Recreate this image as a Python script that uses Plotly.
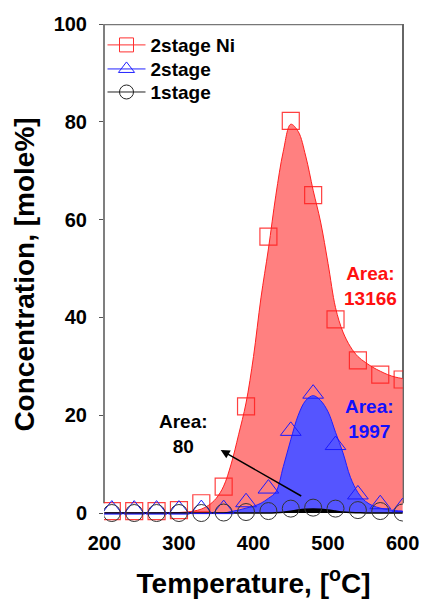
import plotly.graph_objects as go

# measured points
temps = [210, 240, 270, 300, 330, 360, 390, 420, 450, 480, 510, 540, 570, 600]
ni_2stage = [0.4, 0.4, 0.4, 0.6, 2.0, 5.4, 21.8, 56.5, 80.2, 65.0, 39.6, 31.2, 28.3, 27.3]
two_stage = [0.7, 0.7, 0.7, 0.7, 0.8, 0.8, 2.2, 5.0, 16.8, 24.4, 13.9, 3.8, 1.8, 1.2]
one_stage = [0.0, 0.0, 0.0, 0.0, 0.0, 0.1, 0.2, 0.4, 0.9, 1.1, 0.9, 0.6, 0.4, 0.1]

# fitted curves
fit_t = [200, 210, 220, 230, 240, 250, 260, 270, 280, 290, 300, 310, 320, 330, 340,
         350, 360, 370, 380, 390, 400, 410, 420, 430, 440, 450, 460, 470, 480, 490,
         500, 510, 520, 530, 540, 550, 560, 570, 580, 590, 600]
fit_ni = [0, 0, 0, 0, 0, 0, 0, 0, 0, 0.05, 0.1, 0.2, 0.4, 0.8, 1.6,
          3.0, 5.5, 10, 16, 22.5, 32, 44, 54, 65, 74, 79.5, 78, 73, 66, 59.5,
          51, 42, 37, 34, 32, 30.8, 29.8, 29, 28.3, 27.8, 27.5]
fit_2s = [0, 0, 0, 0, 0, 0, 0, 0, 0, 0, 0, 0, 0, 0, 0,
          0, 0, 0.3, 0.6, 1.0, 1.4, 2.0, 3.0, 4.3, 9.5, 15, 20, 23, 24, 23,
          20.7, 16.5, 12.3, 7.3, 4.2, 2.4, 1.5, 1.0, 0.7, 0.5, 0.4]
fit_1s = [0, 0, 0, 0, 0, 0, 0, 0, 0, 0, 0, 0, 0, 0, 0,
          0, 0, 0, 0, 0, 0, 0, 0, 0.05, 0.15, 0.35, 0.6, 0.75, 0.8, 0.75,
          0.6, 0.4, 0.2, 0.1, 0.05, 0, 0, 0, 0, 0, 0]

names = ["2stage Ni", "2stage", "1stage"]
areas = ["13166", "1997", "80"]

FONT = "Liberation Sans, Arial, sans-serif"
fig = go.Figure()

fig.add_trace(go.Scatter(x=fit_t, y=fit_ni, mode="lines", line=dict(color="#ff2020", width=1, shape="spline"),
                         fill="tozeroy", fillcolor="rgb(255,128,128)", showlegend=False))
fig.add_trace(go.Scatter(x=fit_t, y=fit_2s, mode="lines", line=dict(color="#2020ff", width=1, shape="spline"),
                         fill="tozeroy", fillcolor="rgb(85,85,255)", showlegend=False))
fig.add_trace(go.Scatter(x=fit_t, y=fit_1s, mode="lines", line=dict(color="black", width=1.5, shape="spline"),
                         fill="tozeroy", fillcolor="black", showlegend=False))

fig.add_trace(go.Scatter(x=temps, y=ni_2stage, mode="markers", showlegend=False,
                         marker=dict(symbol="square-open", size=17, color="rgba(255,30,30,0.85)", line=dict(width=1.2))))
fig.add_trace(go.Scatter(x=temps, y=two_stage, mode="markers", showlegend=False,
                         marker=dict(symbol="triangle-up-open", size=18, color="#1a1aff", line=dict(width=1))))
fig.add_trace(go.Scatter(x=temps, y=one_stage, mode="markers", showlegend=False,
                         marker=dict(symbol="circle-open", size=17, color="#333333", line=dict(width=1))))

# legend entries, one legend per row for exact spacing
legend_ids = ["legend", "legend2", "legend3"]
for nm, sym, col, lg in zip(names, ["square-open", "triangle-up-open", "circle-open"],
                            ["#ff3030", "#2020ff", "#222222"], legend_ids):
    fig.add_trace(go.Scatter(x=[None], y=[None], mode="lines+markers", name=nm, legend=lg,
                             line=dict(color=col, width=1), marker=dict(symbol=sym, size=14, color=col, line=dict(width=1))))

fig.add_annotation(x=557, y=46.4, text="<b>Area:<br>" + areas[0] + "</b>", showarrow=False,
                   font=dict(family=FONT, size=19, color="#ff1010"))
fig.add_annotation(x=555, y=19.2, text="<b>Area:<br>" + areas[1] + "</b>", showarrow=False,
                   font=dict(family=FONT, size=19, color="#1010ff"))
fig.add_annotation(x=306, y=16.2, text="<b>Area:<br>" + areas[2] + "</b>", showarrow=False,
                   font=dict(family=FONT, size=19, color="black"))
fig.add_annotation(x=356, y=12.9, ax=466, ay=3.3, axref="x", ayref="y", xref="x", yref="y",
                   text="", showarrow=True, arrowhead=2, arrowsize=1.2, arrowwidth=1.5, arrowcolor="black")

# frame
fig.add_shape(type="line", xref="paper", yref="y", x0=0, x1=0, y0=2, y1=100,
              line=dict(color="#555555", width=1.5), layer="below")
fig.add_shape(type="line", xref="paper", yref="y", x0=0, x1=1, y0=100, y1=100,
              line=dict(color="#777777", width=2.5), layer="below")
fig.add_shape(type="line", xref="paper", yref="y", x0=1, x1=1, y0=2, y1=100,
              line=dict(color="#666666", width=2), layer="below")

leg_common = dict(x=-0.005, xanchor="left", yanchor="middle", bgcolor="rgba(0,0,0,0)",
                  font=dict(family=FONT, size=19, weight="bold"), itemwidth=38)
fig.update_layout(
    width=431, height=607,
    margin=dict(l=104, r=21, t=24, b=82),
    paper_bgcolor="white", plot_bgcolor="white",
    font=dict(family=FONT, color="black"),
    legend=dict(y=0.958, **leg_common),
    legend2=dict(y=0.910, **leg_common),
    legend3=dict(y=0.864, **leg_common),
    showlegend=True,
)
fig.update_xaxes(range=[199.5, 600.5], tickvals=[200, 300, 400, 500, 600], showgrid=False, zeroline=False,
                 showline=False, ticks="", ticklabelstandoff=4,
                 tickfont=dict(family=FONT, size=20, weight="bold"),
                 title=dict(text="Temperature, [<sup>o</sup>C]", standoff=20,
                            font=dict(family=FONT, size=28, weight="bold")))
fig.update_yaxes(range=[-2.45, 100], tickvals=[0, 20, 40, 60, 80, 100], showgrid=False, zeroline=False,
                 showline=False, ticks="outside", ticklen=4, tickcolor="#555555",
                 ticklabelstandoff=8,
                 tickfont=dict(family=FONT, size=20, weight="bold"),
                 title=dict(text="Concentration, [mole%]", standoff=10,
                            font=dict(family=FONT, size=28, weight="bold")))

fig.write_html("out.html")
